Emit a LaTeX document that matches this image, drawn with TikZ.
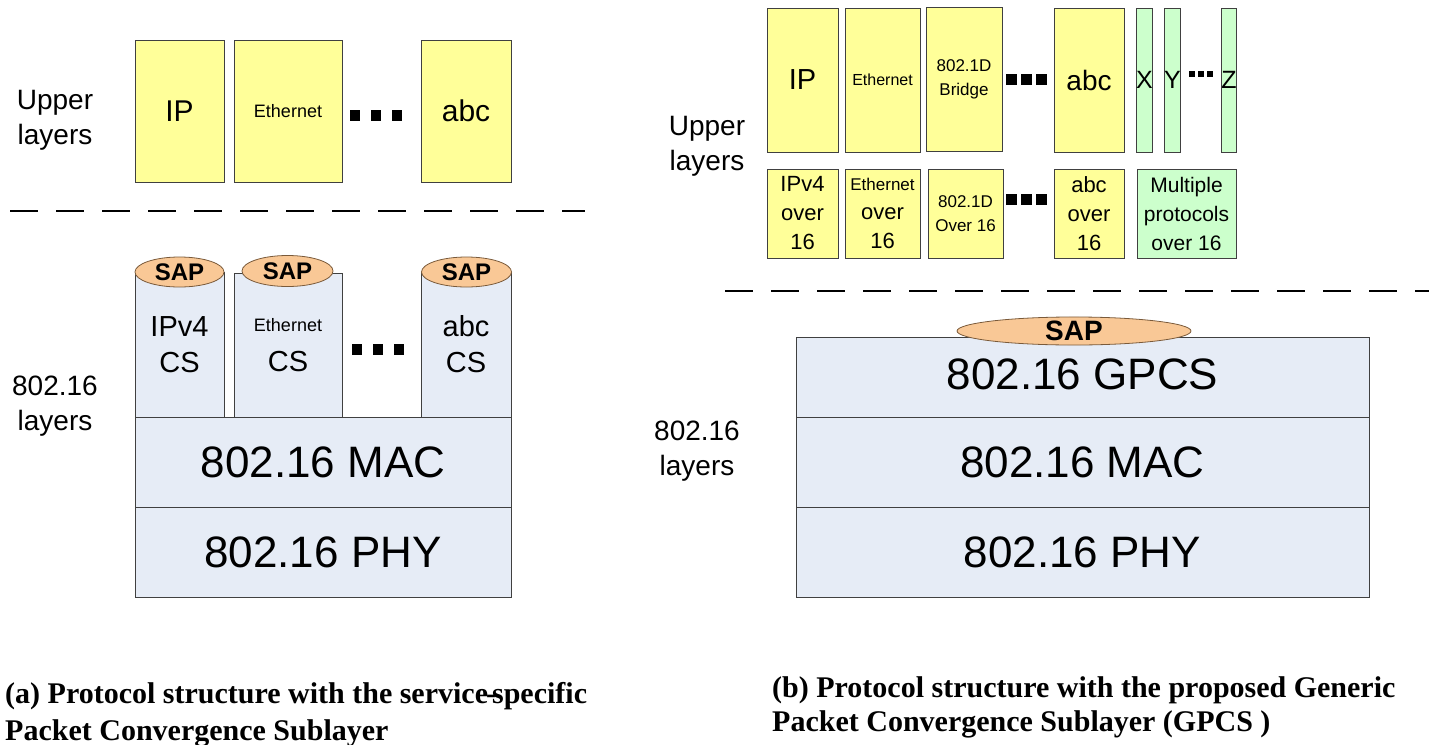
\documentclass[tikz,border=0pt]{standalone}
\usepackage{fontspec}
\setmainfont{Liberation Sans}
\newfontfamily\capfont{Liberation Serif}
\usetikzlibrary{shapes.geometric}
\definecolor{yel}{HTML}{FFFF99}
\definecolor{grn}{HTML}{CCFFCC}
\definecolor{lav}{HTML}{E6ECF6}
\definecolor{peach}{HTML}{F9C896}
\definecolor{peachline}{HTML}{7A5A3A}
\definecolor{edge}{HTML}{404040}
\newcommand{\fs}[2]{\fontsize{#1}{#2}\selectfont}
\tikzset{
  ybox/.style={draw=edge, line width=0.8pt, fill=yel, inner sep=0pt, align=center},
  gbox/.style={draw=edge, line width=0.8pt, fill=grn, inner sep=0pt, align=center},
  lbox/.style={draw=edge, line width=0.8pt, fill=lav, inner sep=0pt, align=center},
  sap/.style={ellipse, draw=peachline, line width=0.8pt, fill=peach, inner sep=0pt, font=\fs{24}{26}\bfseries},
  lbl/.style={align=center, inner sep=0pt},
  divider/.style={line width=2.4pt, dash pattern=on 28pt off 18pt},
  captext/.style={anchor=base west, inner sep=0pt, font=\capfont\bfseries\fs{30}{34}},
}
\begin{document}
\begin{tikzpicture}[x=1pt,y=-1pt]
\useasboundingbox (0,0) rectangle (1429,744);
% ---------------- left panel ----------------
\node[lbl, font=\fs{28}{35}] (ulL) at (55,120) {Upper\\layers};
\node[lbl, font=\fs{28}{35}] (llL) at (55,406) {802.16\\layers};
\node[ybox, minimum width=89, minimum height=142, font=\fs{30}{36}] (ipL) at (179.5,111) {IP};
\node[ybox, minimum width=108, minimum height=142, font=\fs{18}{22}] (ethL) at (288,111) {\raisebox{-3pt}{Ethernet}};
\node[ybox, minimum width=90, minimum height=142, font=\fs{30}{36}] (abcL) at (466,111) {abc};
\foreach \x in {355,376,397} \fill (\x-5,110) rectangle (\x+5,121);
\coordinate (dlA) at (10,211);
\coordinate (dlB) at (585,211);
\draw[divider] (dlA) -- (dlB);
% CS boxes
\node[lbox, minimum width=89, minimum height=145, font=\fs{29}{36}] (ipcs) at (179.5,344.5) {IPv4\\CS};
\node[lbox, minimum width=108, minimum height=144, font=\fs{29}{36}] (ethcs) at (288,345) {{\fs{18}{22}Ethernet}\\[4pt]CS};
\node[lbox, minimum width=90, minimum height=145, font=\fs{29}{36}] (abccs) at (466,344.5) {abc\\CS};
\foreach \x in {357,378,399} \fill (\x-5,344) rectangle (\x+5,355);
\node[sap, minimum width=89, minimum height=30] (sap1) at (179.5,272) {SAP};
\node[sap, minimum width=91, minimum height=31] (sap2) at (287.5,271) {SAP};
\node[sap, minimum width=90, minimum height=30] (sap3) at (466.5,272) {SAP};
\node[lbox, minimum width=376, minimum height=90, font=\fs{44}{48}] (macL) at (323,462) {802.16 MAC};
\node[lbox, minimum width=376, minimum height=90, font=\fs{44}{48}] (phyL) at (323,552) {802.16 PHY};
\node[captext] (capa1) at (5,703) {(a) Protocol structure with the service\kern-2pt-\kern-4pt specific};
\node[captext] (capa2) at (5,740) {Packet Convergence Sublayer};
% ---------------- right panel ----------------
\node[lbl, font=\fs{28}{35}] (ulR) at (707,146) {Upper\\layers};
\node[lbl, font=\fs{28}{35}] (llR) at (697,451) {802.16\\layers};
\node[ybox, minimum width=71, minimum height=144, font=\fs{29}{36}] (ipR) at (802.5,80) {IP};
\node[ybox, minimum width=75, minimum height=144, font=\fs{16}{20}] (ethR) at (882.5,80) {\raisebox{-2pt}{Ethernet}};
\node[ybox, minimum width=76, minimum height=144, font=\fs{17}{24}] (brR) at (964,79) {802.1D\\Bridge};
\foreach \x in {1011.5,1026.5,1041.5} \fill (\x-5.5,73.5) rectangle (\x+5.5,84.5);
\node[ybox, minimum width=70, minimum height=144, font=\fs{28}{36}] (abcR) at (1089,80) {abc};
\node[gbox, minimum width=15, minimum height=144, font=\fs{25}{30}] (xR) at (1144.5,80) {X};
\node[gbox, minimum width=13, minimum height=144, font=\fs{25}{30}] (yR) at (1172.5,80) {Y};
\foreach \x in {1192,1201,1210} \fill (\x-3,71) rectangle (\x+3,77);
\node[gbox, minimum width=14, minimum height=144, font=\fs{25}{30}] (zR) at (1229,80) {Z};
% second row
\node[ybox, minimum width=71, minimum height=89, font=\fs{22}{29}] (ipo) at (802.5,213.5) {IPv4\\over\\16};
\node[ybox, minimum width=75, minimum height=89, font=\fs{22}{29}] (etho) at (882.5,213.5) {{\fs{17}{20}Ethernet}\\over\\16};
\node[ybox, minimum width=75, minimum height=89, font=\fs{17}{24}] (bro) at (965.5,213.5) {802.1D\\Over 16};
\foreach \x in {1011.5,1026.5,1041.5} \fill (\x-5.5,193.5) rectangle (\x+5.5,204.5);
\node[ybox, minimum width=70, minimum height=89, font=\fs{22}{29}] (abco) at (1089,213.5) {abc\\over\\16};
\node[gbox, minimum width=99, minimum height=89, font=\fs{21}{29}] (multi) at (1186.5,213.5) {Multiple\\protocols\\over 16};
\coordinate (drA) at (725,291);
\coordinate (drB) at (1429,291);
\draw[divider] (drA) -- (drB);
\node[lbox, minimum width=573, minimum height=80, font=\fs{44}{48}, text depth=0pt] (gpcs) at (1082.5,377) {\raisebox{6pt}{802.16 GPCS}};
\node[sap, minimum width=234, minimum height=28, font=\fs{28}{30}\bfseries] (sapR) at (1074,331) {SAP};
\node[lbox, minimum width=573, minimum height=90, font=\fs{44}{48}] (macR) at (1082.5,462) {802.16 MAC};
\node[lbox, minimum width=573, minimum height=90, font=\fs{44}{48}] (phyR) at (1082.5,552) {802.16 PHY};
\node[captext] (capb1) at (772,697) {(b) Protocol structure with the proposed Generic};
\node[captext] (capb2) at (772,731) {Packet Convergence Sublayer (GPCS )};
\end{tikzpicture}
\end{document}
